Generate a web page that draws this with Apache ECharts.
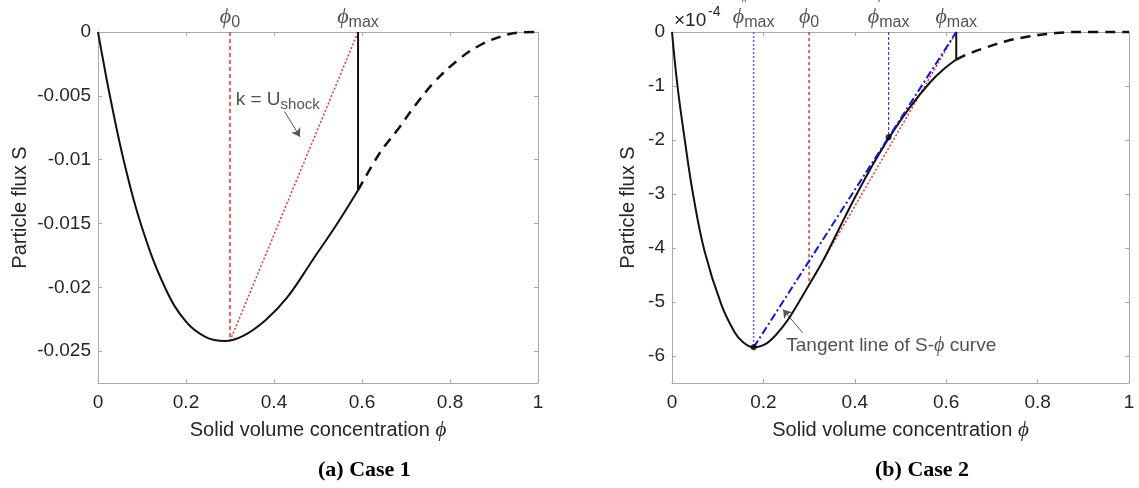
<!DOCTYPE html>
<html><head><meta charset="utf-8">
<script src="https://cdn.jsdelivr.net/npm/echarts@6/dist/echarts.min.js"></script>
<style>html,body{margin:0;padding:0;background:#fff}#c{width:1139px;height:488px}</style>
</head><body><div id="c"></div>
<script>
// ---- ticks ----
const xTicks = [0, 0.2, 0.4, 0.6, 0.8, 1];
const xTickLabels = ['0', '0.2', '0.4', '0.6', '0.8', '1'];
const yTicksA = [0, -0.005, -0.01, -0.015, -0.02, -0.025];
const yTickLabelsA = ['0', '-0.005', '-0.01', '-0.015', '-0.02', '-0.025'];
const yTicksB = [0, -1, -2, -3, -4, -5, -6];
const yTickLabelsB = ['0', '-1', '-2', '-3', '-4', '-5', '-6'];

// ---- panel (a) Case 1 : [phi, S] ----
const curveA = [[0,0],[0.01,-0.0019],[0.027,-0.0050],[0.058,-0.0100],[0.097,-0.0150],[0.152,-0.0200],[0.2,-0.0227],[0.245,-0.0239],[0.288,-0.0242],[0.33,-0.0238],[0.38,-0.0226],[0.43,-0.0208],[0.489,-0.0178],[0.542,-0.0151],[0.591,-0.0124]];
const dashA = [[0.591,-0.0124],[0.64,-0.0095],[0.68,-0.0077],[0.72,-0.0058],[0.765,-0.0039],[0.818,-0.0022],[0.87,-0.0010],[0.93,-0.0002],[0.965,-0.00003],[1,0]];
const jumpA = [[0.591,-0.0124],[0.591,0]];
const shockA = [[0.3,-0.0242],[0.591,0]];
const phi0LineA = [[0.3,0],[0.3,-0.0242]];
const topLabelsA = [[0.3, 0, '', '0'], [0.591, 0, '', 'max']];
const noteA = [[0.313, -0.00532]];
const arrowA = [[0.424, -0.00623], [0.459, -0.0082]];

// ---- panel (b) Case 2 : [phi, S x 1e-4] ----
const curveB = [[0,0],[0.012,-1.0],[0.028,-2.0],[0.046,-3.0],[0.071,-4.05],[0.108,-5.05],[0.137,-5.56],[0.155,-5.74],[0.179,-5.84],[0.2,-5.8],[0.217,-5.7],[0.243,-5.45],[0.26,-5.25],[0.3,-4.68],[0.33,-4.24],[0.367,-3.62],[0.4,-3.07],[0.44,-2.45],[0.474,-1.97],[0.52,-1.4],[0.564,-0.94],[0.593,-0.7],[0.622,-0.51]];
const dashB = [[0.622,-0.51],[0.644,-0.42],[0.688,-0.285],[0.731,-0.17],[0.783,-0.08],[0.84,-0.02],[0.89,0],[1,0]];
const jumpB = [[0.622,-0.51],[0.622,0]];
const tangentB = [[0.1786,-5.84],[0.622,0]];
const chordB = [[0.3,-4.68],[0.622,0]];
const phi0LineB = [[0.3,0],[0.3,-4.68]];
const phiMax2LineB = [[0.1786,0],[0.1786,-5.84]];
const phiMax1LineB = [[0.474,0],[0.474,-1.95]];
const dotsB = [[0.1786,-5.84],[0.474,-1.95]];
const topLabelsB = [[0.1786, 0, '″', 'max'], [0.3, 0, '', '0'], [0.474, 0, '′', 'max'], [0.622, 0, '', 'max']];
const noteB = [[0.25, -5.815]];
const arrowB = [[0.286, -5.57], [0.243, -5.14]];

const SANS = 'Liberation Sans, Arial, Helvetica, sans-serif';
const SERIF = 'Liberation Serif, DejaVu Serif, Times New Roman, serif';
const TXT = '#262626';
const AX = '#a9a9a9';

function lbl(ticks, labels) {
  return v => { const i = ticks.findIndex(t => Math.abs(t - v) < 1e-9); return i < 0 ? '' : labels[i]; };
}
function xAx(grid, pos, show) {
  return {
    type: 'value', gridIndex: grid, position: pos, min: 0, max: 1,
    axisLine: { show: true, onZero: false, lineStyle: { color: AX, width: 1 } },
    axisTick: { show: true, inside: true, length: 4, customValues: xTicks, lineStyle: { color: AX } },
    axisLabel: { show: show, customValues: xTicks, formatter: lbl(xTicks, xTickLabels), color: TXT, fontSize: 19, fontFamily: SANS, margin: 10 },
    splitLine: { show: false },
    name: show ? '{a|Solid volume concentration }{b|ϕ}' : '',
    nameLocation: 'middle', nameGap: 37,
    nameTextStyle: { rich: { a: { fontSize: 20, fontFamily: SANS, color: TXT }, b: { fontSize: 21, fontFamily: SERIF, fontStyle: 'italic', color: TXT } } }
  };
}
function yAx(grid, pos, show, min, ticks, labels, gap) {
  return {
    type: 'value', gridIndex: grid, position: pos, min: min, max: 0,
    axisLine: { show: true, onZero: false, lineStyle: { color: AX, width: 1 } },
    axisTick: { show: true, inside: true, length: 4, customValues: ticks, lineStyle: { color: AX } },
    axisLabel: { show: show, customValues: ticks, formatter: lbl(ticks, labels), color: TXT, fontSize: 19, fontFamily: SANS, margin: 7 },
    splitLine: { show: false },
    name: show ? 'Particle flux S' : '',
    nameLocation: 'middle', nameGap: gap,
    nameTextStyle: { fontSize: 20, fontFamily: SANS, color: TXT }
  };
}
function line(data, xi, color, width, type, smooth, z) {
  return { type: 'line', xAxisIndex: xi, yAxisIndex: xi, data: data, showSymbol: false, symbol: 'none',
    smooth: smooth,
    lineStyle: { color: color, width: width, type: type, cap: 'butt' }, z: z || 2, silent: true, clip: false };
}
function topLabels(data, xi) {
  return { type: 'scatter', xAxisIndex: xi, yAxisIndex: xi, symbolSize: 0, silent: true,
    data: data.map(d => ({ value: [d[0], d[1]], sup: d[2], sub: d[3] })),
    label: { show: true, position: 'top', distance: 3,
      formatter: p => '{p|ϕ}' + (p.data.sup ? '{q|' + p.data.sup + '}' : '') + '{s|' + p.data.sub + '}',
      rich: {
        p: { fontSize: 22, fontFamily: SERIF, fontStyle: 'italic', color: TXT, lineHeight: 24 },
        q: { fontSize: 14, fontFamily: SERIF, color: TXT, lineHeight: 14, padding: [0, 0, 24, 0], width: 0 },
        s: { fontSize: 16, fontFamily: SANS, color: TXT, lineHeight: 16, padding: [12, 0, 0, 0] }
      } } };
}
function arrow(coords, xi) {
  return { type: 'lines', coordinateSystem: 'cartesian2d', xAxisIndex: xi, yAxisIndex: xi, silent: true,
    symbol: ['none', 'arrow'], symbolSize: 8,
    lineStyle: { color: '#555', width: 1, opacity: 1 },
    data: [{ coords: coords }] };
}

const option = {
  animation: false,
  backgroundColor: '#fff',
  grid: [
    { left: 98, top: 32, width: 440, height: 351 },
    { left: 672, top: 32, width: 457, height: 351 }
  ],
  xAxis: [xAx(0, 'bottom', true), xAx(0, 'top', false), xAx(1, 'bottom', true), xAx(1, 'top', false)],
  yAxis: [
    yAx(0, 'left', true, -0.0275, yTicksA, yTickLabelsA, 68),
    yAx(0, 'right', false, -0.0275, yTicksA, yTickLabelsA, 0),
    yAx(1, 'left', true, -6.5, yTicksB, yTickLabelsB, 34),
    yAx(1, 'right', false, -6.5, yTicksB, yTickLabelsB, 0)
  ],
  series: [
    // panel a
    line(phi0LineA, 0, '#f03030', 1.5, [4, 3], false),
    line(shockA, 0, '#f03030', 1.5, [2, 2], false),
    line(curveA, 0, '#111', 2, 'solid', 0.4, 3),
    line(dashA, 0, '#111', 2.5, [10, 7], 0.4, 3),
    line(jumpA, 0, '#111', 2, 'solid', false, 3),
    topLabels(topLabelsA, 0),
    { type: 'scatter', xAxisIndex: 0, yAxisIndex: 0, symbolSize: 0, silent: true, data: noteA,
      label: { show: true, position: 'right', distance: 0, formatter: '{a|k = U}{b|shock}',
        rich: { a: { fontSize: 19, fontFamily: SANS, color: TXT, lineHeight: 20 },
                b: { fontSize: 15, fontFamily: SANS, color: TXT, lineHeight: 16, padding: [10, 0, 0, 0] } } } },
    arrow(arrowA, 0),
    // panel b
    line(phiMax2LineB, 2, '#5a5af5', 1.5, [2, 2], false),
    line(phiMax1LineB, 2, '#3a3af0', 1.2, [3, 2], false),
    line(phi0LineB, 2, '#f03030', 1.5, [3, 3], false),
    line(chordB, 2, '#f03030', 1.5, [2, 2], false),
    line(curveB, 2, '#111', 2, 'solid', 0.4, 3),
    line(dashB, 2, '#111', 2.5, [10, 7], 0.4, 3),
    line(jumpB, 2, '#111', 2, 'solid', false, 3),
    line(tangentB, 2, '#1515e0', 2, [8, 3, 2, 3], false, 4),
    { type: 'scatter', xAxisIndex: 2, yAxisIndex: 2, symbolSize: 6, silent: true, data: dotsB, itemStyle: { color: '#000' }, z: 5 },
    topLabels(topLabelsB, 2),
    { type: 'scatter', xAxisIndex: 2, yAxisIndex: 2, symbolSize: 0, silent: true, data: noteB,
      label: { show: true, position: 'right', distance: 0, formatter: '{a|Tangent line of S-}{b|ϕ}{a| curve}',
        rich: { a: { fontSize: 19, fontFamily: SANS, color: TXT }, b: { fontSize: 20, fontFamily: SERIF, fontStyle: 'italic', color: TXT } } } },
    arrow(arrowB, 2)
  ],
  graphic: [
    { type: 'text', left: 674, top: 11, style: { text: '×10', fontSize: 19, fontFamily: SANS, fill: TXT } },
    { type: 'text', left: 708, top: 5, style: { text: '-4', fontSize: 14, fontFamily: SANS, fill: TXT } },
    { type: 'text', left: 318, top: 459, style: { text: '(a) Case 1', fontSize: 22, fontWeight: 'bold', fontFamily: SERIF, fill: '#000', textAlign: 'center' } },
    { type: 'text', left: 875, top: 459, style: { text: '(b) Case 2', fontSize: 22, fontWeight: 'bold', fontFamily: SERIF, fill: '#000', textAlign: 'center' } }
  ]
};
const chart = echarts.init(document.getElementById('c'), null, { renderer: 'canvas' });
chart.setOption(option);
</script></body></html>
